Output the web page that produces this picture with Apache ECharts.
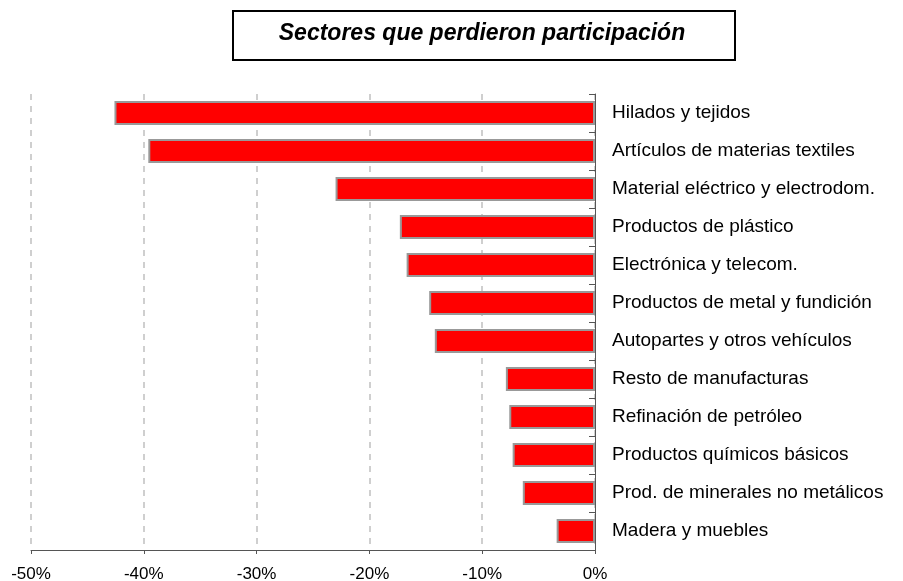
<!DOCTYPE html>
<html>
<head>
<meta charset="utf-8">
<script src="https://cdn.jsdelivr.net/npm/echarts@6/dist/echarts.min.js"></script>
<style>
  html, body { margin: 0; padding: 0; background: #ffffff; }
  #chart { width: 903px; height: 581px; }
</style>
</head>
<body>
<div id="chart"></div>
<script>
// Sectors that lost share (percentage change)
const sectores = [
  'Hilados y tejidos',
  'Artículos de materias textiles',
  'Material eléctrico y electrodom.',
  'Productos de plástico',
  'Electrónica y telecom.',
  'Productos de metal y fundición',
  'Autopartes y otros vehículos',
  'Resto de manufacturas',
  'Refinación de petróleo',
  'Productos químicos básicos',
  'Prod. de minerales no metálicos',
  'Madera y muebles'
];
const variacion = [-42.6, -39.6, -23.0, -17.3, -16.7, -14.7, -14.2, -7.9, -7.6, -7.3, -6.4, -3.4];
const titulo = 'Sectores que perdieron participación';

const chart = echarts.init(document.getElementById('chart'));
chart.setOption({
  animation: false,
  backgroundColor: '#ffffff',
  graphic: [
    {
      type: 'rect',
      shape: { x: 233, y: 11, width: 502, height: 49 },
      style: { fill: '#ffffff', stroke: '#000000', lineWidth: 2 }
    },
    {
      type: 'text',
      x: 482, y: 34,
      style: {
        text: titulo,
        fill: '#000000',
        font: 'italic bold 23px "Liberation Sans", Arial, sans-serif',
        align: 'center',
        verticalAlign: 'middle'
      }
    }
  ],
  grid: { left: 31, right: 308, top: 94, bottom: 31, outerBoundsMode: 'none', containLabel: false },
  xAxis: {
    type: 'value',
    min: -50,
    max: 0,
    interval: 10,
    axisLine: { show: true, lineStyle: { color: '#555555', width: 1 } },
    axisTick: { show: true, length: 4, lineStyle: { color: '#555555' } },
    axisLabel: {
      formatter: v => v + '%',
      color: '#000000',
      fontFamily: '"Liberation Sans", Arial, sans-serif',
      fontSize: 17,
      margin: 16
    },
    splitLine: {
      show: true,
      lineStyle: { color: '#c0c0c0', type: [6, 6], width: 1.5 }
    }
  },
  yAxis: {
    type: 'category',
    data: sectores,
    inverse: true,
    position: 'right',
    axisLine: { show: true, lineStyle: { color: '#555555', width: 1 } },
    axisTick: { show: true, inside: true, length: 6, lineStyle: { color: '#555555' } },
    axisLabel: {
      color: '#000000',
      fontFamily: '"Liberation Sans", Arial, sans-serif',
      fontSize: 19,
      margin: 17
    },
    splitLine: { show: false }
  },
  series: [{
    type: 'bar',
    data: variacion,
    barWidth: 24,
    itemStyle: { color: '#ff0000', borderColor: '#999999', borderWidth: 2 }
  }]
});
</script>
</body>
</html>
